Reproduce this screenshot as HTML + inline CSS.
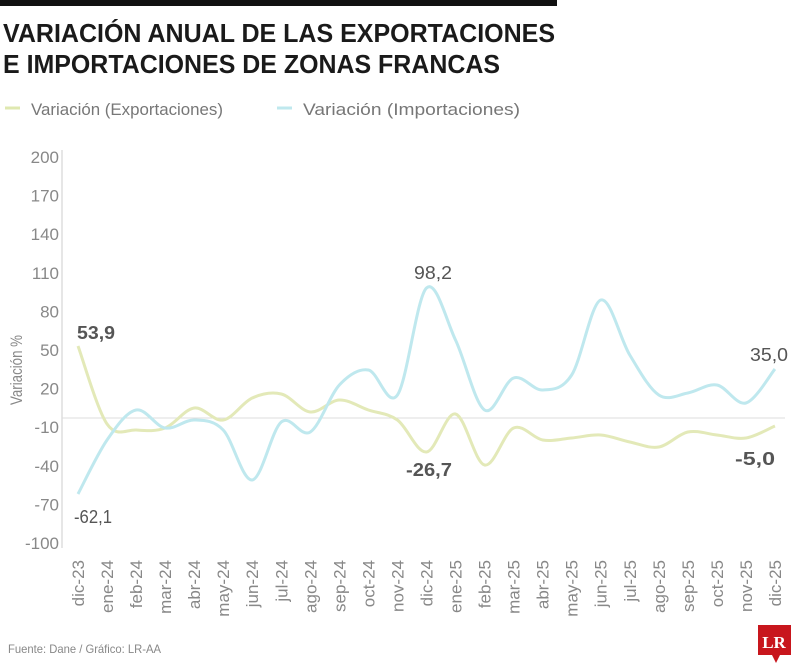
<!DOCTYPE html>
<html><head><meta charset="utf-8"><style>
body{margin:0;background:#fff;width:800px;height:666px;overflow:hidden;font-family:"Liberation Sans",sans-serif}
</style></head><body>
<svg width="800" height="666" viewBox="0 0 800 666" xmlns="http://www.w3.org/2000/svg" font-family="Liberation Sans, sans-serif">
<rect x="0" y="0" width="557" height="6" fill="#111"/>
<text x="3" y="42" font-size="26" font-weight="bold" fill="#1a1a1a" textLength="552" lengthAdjust="spacingAndGlyphs">VARIACIÓN ANUAL DE LAS EXPORTACIONES</text>
<text x="3" y="73" font-size="26" font-weight="bold" fill="#1a1a1a" textLength="497" lengthAdjust="spacingAndGlyphs">E IMPORTACIONES DE ZONAS FRANCAS</text>
<line x1="5" y1="108" x2="20" y2="108" stroke="#dfe8b0" stroke-width="3"/>
<text x="31" y="115" font-size="17" fill="#777" textLength="192" lengthAdjust="spacingAndGlyphs">Variación (Exportaciones)</text>
<line x1="277" y1="108" x2="292" y2="108" stroke="#bfe8ee" stroke-width="3"/>
<text x="303" y="115" font-size="17" fill="#777" textLength="217" lengthAdjust="spacingAndGlyphs">Variación (Importaciones)</text>
<line x1="62" y1="150" x2="62" y2="548" stroke="#ccc" stroke-width="1"/>
<line x1="62" y1="418" x2="785" y2="418" stroke="#ddd" stroke-width="1"/>
<g font-size="17" fill="#888" text-anchor="end" id="yt"></g>
<text transform="translate(22,370) rotate(-90)" font-size="17" fill="#888" text-anchor="middle" textLength="70" lengthAdjust="spacingAndGlyphs">Variación %</text>
<g id="xt" font-size="17" fill="#888" text-anchor="end"></g>
<path id="ex" fill="none" stroke="#e3e9b8" stroke-width="3"/>
<path id="im" fill="none" stroke="#bfe8ee" stroke-width="3"/>
<text x="77" y="339" font-size="18" font-weight="bold" fill="#555" textLength="38" lengthAdjust="spacingAndGlyphs">53,9</text>
<text x="74" y="523" font-size="18" fill="#555" textLength="38" lengthAdjust="spacingAndGlyphs">-62,1</text>
<text x="414" y="279" font-size="18" fill="#555" textLength="38" lengthAdjust="spacingAndGlyphs">98,2</text>
<text x="406" y="476" font-size="18" font-weight="bold" fill="#555" textLength="46" lengthAdjust="spacingAndGlyphs">-26,7</text>
<text x="750" y="361" font-size="18" fill="#555" textLength="38" lengthAdjust="spacingAndGlyphs">35,0</text>
<text x="735" y="465" font-size="18" font-weight="bold" fill="#555" textLength="40" lengthAdjust="spacingAndGlyphs">-5,0</text>
<text x="8" y="653" font-size="12" fill="#888" textLength="153" lengthAdjust="spacingAndGlyphs">Fuente: Dane  / Gráfico: LR-AA</text>
<rect x="758" y="625" width="33" height="30" fill="#c8161d"/>
<polygon points="772,655 780,655 776,663" fill="#c8161d"/>
<text x="774" y="648" font-size="17" font-weight="bold" fill="#fff" text-anchor="middle" font-family="Liberation Serif, serif">LR</text>
</svg>
<script>
var ns="http://www.w3.org/2000/svg";
var yt=document.getElementById('yt');
[200,170,140,110,80,50,20,-10,-40,-70,-100].forEach(function(v){
 var y=157+(200-v)*1.2867;var t=document.createElementNS(ns,'text');
 t.setAttribute('x',59);t.setAttribute('y',y+6);t.textContent=v;yt.appendChild(t);});
var labs=["dic-23","ene-24","feb-24","mar-24","abr-24","may-24","jun-24","jul-24","ago-24","sep-24","oct-24","nov-24","dic-24","ene-25","feb-25","mar-25","abr-25","may-25","jun-25","jul-25","ago-25","sep-25","oct-25","nov-25","dic-25"];
var xt=document.getElementById('xt');
function X(i){return 78+i*29.04;}
labs.forEach(function(l,i){var t=document.createElementNS(ns,'text');
 t.setAttribute('transform','translate('+(X(i)+6)+',560) rotate(-90)');t.textContent=l;xt.appendChild(t);});
var ex=[346,424,430,428,408,420,398,394,412,400,410,420,452,414,465,428,440,438,435,442,447,432,435,438,426];
var im=[494,440,410,428,420,430,480,422,432,385,370,395,288,340,410,378,390,375,300,355,395,393,385,403,369];
function path(ys){var p=[];ys.forEach(function(y,i){p.push([X(i),y]);});
 var d="M"+p[0][0]+","+p[0][1];
 for(var i=0;i<p.length-1;i++){var p0=p[i>0?i-1:i],p1=p[i],p2=p[i+1],p3=p[i+2<p.length?i+2:i+1];
  var c1=[p1[0]+(p2[0]-p0[0])/6,p1[1]+(p2[1]-p0[1])/6],c2=[p2[0]-(p3[0]-p1[0])/6,p2[1]-(p3[1]-p1[1])/6];
  d+=" C"+c1[0]+","+c1[1]+" "+c2[0]+","+c2[1]+" "+p2[0]+","+p2[1];}
 return d;}
document.getElementById('ex').setAttribute('d',path(ex));
document.getElementById('im').setAttribute('d',path(im));
</script>
</body></html>
